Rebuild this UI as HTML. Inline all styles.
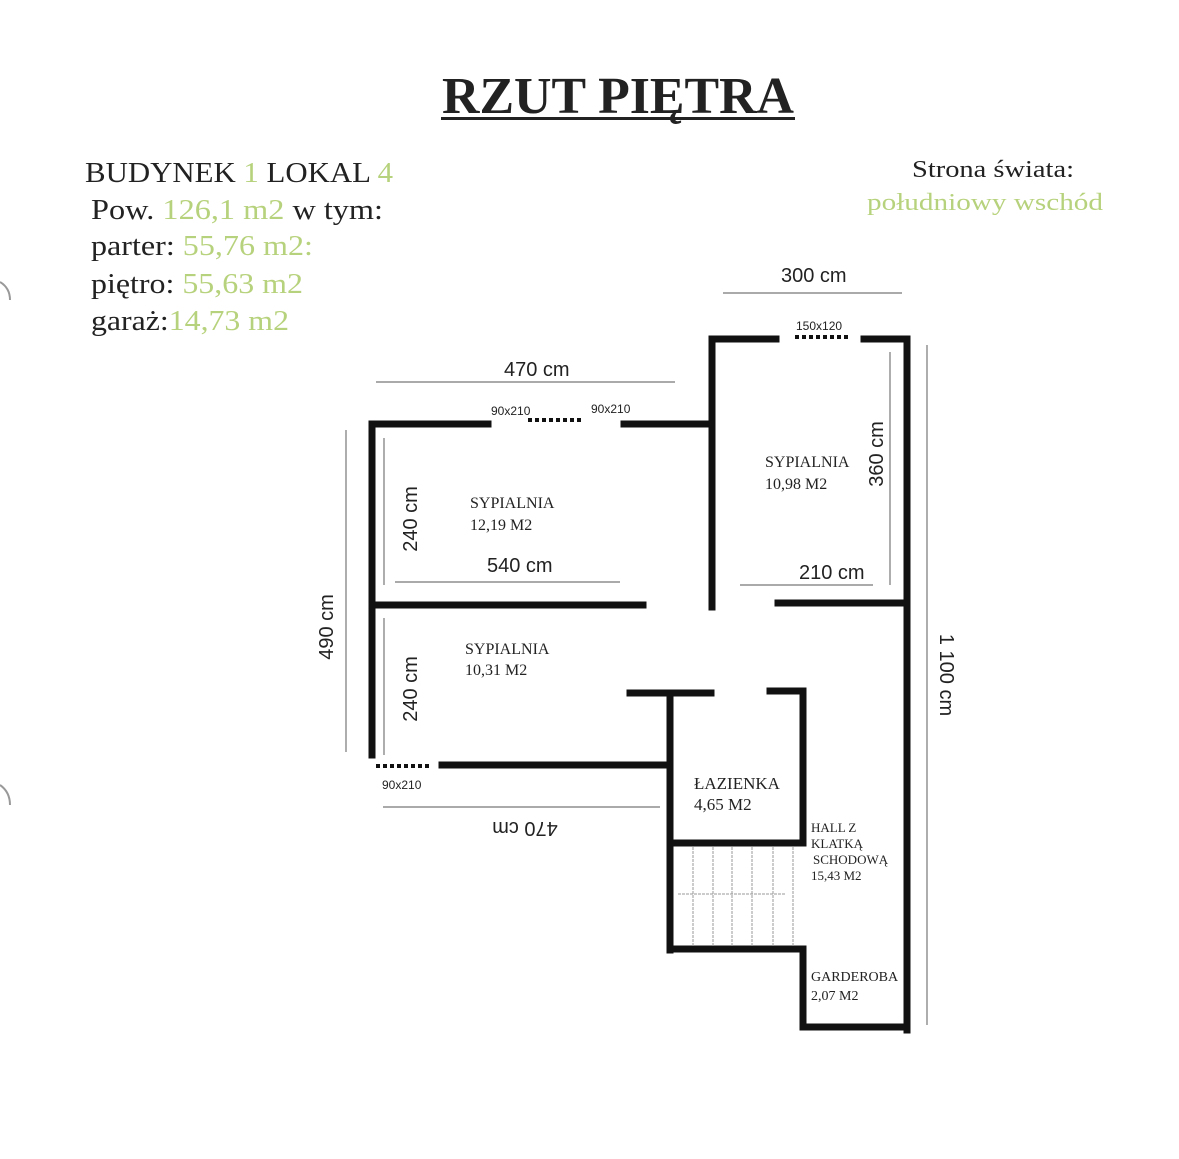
<!DOCTYPE html>
<html><head><meta charset="utf-8"><style>
html,body{margin:0;padding:0;background:#fff;}
svg{display:block}
.s{font-family:"Liberation Serif",serif;}
.a{font-family:"Liberation Sans",sans-serif;}
.g{fill:#b7d27c}
</style></head><body>
<svg width="1179" height="1159" viewBox="0 0 1179 1159" xmlns="http://www.w3.org/2000/svg">
<rect width="1179" height="1159" fill="#fff"/>
<!-- title -->
<text class="s" x="442" y="113" font-size="52" font-weight="bold" fill="#222" textLength="352" lengthAdjust="spacingAndGlyphs">RZUT PIĘTRA</text>
<rect x="441" y="117" width="354" height="3" fill="#222"/>
<!-- info -->
<g class="s" font-size="28" fill="#222">
<text x="85" y="182" textLength="308" lengthAdjust="spacingAndGlyphs">BUDYNEK <tspan class="g">1</tspan> LOKAL <tspan class="g">4</tspan></text>
<text x="91" y="219" textLength="292" lengthAdjust="spacingAndGlyphs">Pow. <tspan class="g">126,1 m2</tspan> w tym:</text>
<text x="91" y="255" textLength="222" lengthAdjust="spacingAndGlyphs">parter: <tspan class="g">55,76 m2:</tspan></text>
<text x="91" y="293" textLength="212" lengthAdjust="spacingAndGlyphs">piętro: <tspan class="g">55,63 m2</tspan></text>
<text x="91" y="330" textLength="198" lengthAdjust="spacingAndGlyphs">garaż:<tspan class="g">14,73 m2</tspan></text>
<text x="912" y="177" font-size="24" textLength="162" lengthAdjust="spacingAndGlyphs">Strona świata:</text>
<text x="867" y="210" font-size="24" class="g" textLength="236" lengthAdjust="spacingAndGlyphs">południowy wschód</text>
</g>
<!-- left edge arcs -->
<path d="M0 282 Q10 288 10 300" stroke="#999" stroke-width="2" fill="none"/>
<path d="M0 785 Q10 792 10 805" stroke="#999" stroke-width="2" fill="none"/>
<!-- dimension lines -->
<g stroke="#777" stroke-width="1.2">
<line x1="723" y1="293" x2="902" y2="293"/>
<line x1="376" y1="382" x2="675" y2="382"/>
<line x1="395" y1="582" x2="620" y2="582"/>
<line x1="740" y1="585" x2="873" y2="585"/>
<line x1="346" y1="430" x2="346" y2="752"/>
<line x1="927" y1="345" x2="927" y2="1025"/>
<line x1="890" y1="352" x2="890" y2="585"/>
<line x1="384" y1="438" x2="384" y2="585"/>
<line x1="384" y1="618" x2="384" y2="755"/>
<line x1="383" y1="807" x2="660" y2="807"/>
</g>
<!-- walls -->
<g stroke="#111" stroke-width="7" fill="none" stroke-linecap="square">
<polyline points="488,424 372,424 372,755"/>
<line x1="624" y1="424" x2="712" y2="424"/>
<polyline points="712,607 712,339 776,339"/>
<polyline points="864,339 907,339 907,1030"/>
<line x1="778" y1="603" x2="907" y2="603"/>
<line x1="372" y1="605" x2="643" y2="605"/>
<line x1="442" y1="765" x2="670" y2="765"/>
<line x1="630" y1="693" x2="711" y2="693"/>
<polyline points="670,693 670,950"/>
<polyline points="770,691 803,691 803,843 670,843"/>
<polyline points="670,949 803,949 803,1027 907,1027"/>
</g>
<!-- dotted doors -->
<g stroke="#111" stroke-width="4" stroke-dasharray="4,3">
<line x1="528" y1="420" x2="584" y2="420"/>
<line x1="795" y1="337" x2="850" y2="337"/>
<line x1="376" y1="766" x2="432" y2="766"/>
</g>
<!-- stairs -->
<g stroke="#999" stroke-width="1" stroke-dasharray="3,1">
<line x1="693" y1="847" x2="693" y2="946"/>
<line x1="713" y1="847" x2="713" y2="946"/>
<line x1="732" y1="847" x2="732" y2="946"/>
<line x1="752" y1="847" x2="752" y2="946"/>
<line x1="773" y1="847" x2="773" y2="946"/>
<line x1="793" y1="847" x2="793" y2="946"/>
<line x1="678" y1="894" x2="786" y2="894"/>
</g>
<!-- dimension text -->
<g class="a" fill="#222">
<text x="781" y="282" font-size="20">300 cm</text>
<text x="504" y="376" font-size="20">470 cm</text>
<text x="487" y="572" font-size="20">540 cm</text>
<text x="799" y="579" font-size="20">210 cm</text>
<text x="796" y="330" font-size="12">150x120</text>
<text x="491" y="415" font-size="12">90x210</text>
<text x="591" y="413" font-size="12">90x210</text>
<text x="382" y="789" font-size="12">90x210</text>
<text transform="translate(333,627) rotate(-90)" font-size="20" text-anchor="middle">490 cm</text>
<text transform="translate(417,519) rotate(-90)" font-size="20" text-anchor="middle">240 cm</text>
<text transform="translate(417,689) rotate(-90)" font-size="20" text-anchor="middle">240 cm</text>
<text transform="translate(883,454) rotate(-90)" font-size="20" text-anchor="middle">360 cm</text>
<text transform="translate(940,675) rotate(90)" font-size="20" text-anchor="middle">1 100 cm</text>
<text transform="translate(525,822) rotate(180)" font-size="20" text-anchor="middle">470 cm</text>
</g>
<!-- room labels -->
<g class="s" fill="#222" font-size="16">
<text x="470" y="508">SYPIALNIA</text>
<text x="470" y="530">12,19 M2</text>
<text x="765" y="467">SYPIALNIA</text>
<text x="765" y="489">10,98 M2</text>
<text x="465" y="654">SYPIALNIA</text>
<text x="465" y="675">10,31 M2</text>
<text x="694" y="789" font-size="17">ŁAZIENKA</text>
<text x="694" y="810" font-size="17">4,65  M2</text>
<text x="811" y="832" font-size="13">HALL Z</text>
<text x="811" y="848" font-size="13">KLATKĄ</text>
<text x="813" y="864" font-size="13">SCHODOWĄ</text>
<text x="811" y="880" font-size="13">15,43 M2</text>
<text x="811" y="981" font-size="14">GARDEROBA</text>
<text x="811" y="1000" font-size="14">2,07 M2</text>
</g>
</svg>
</body></html>
